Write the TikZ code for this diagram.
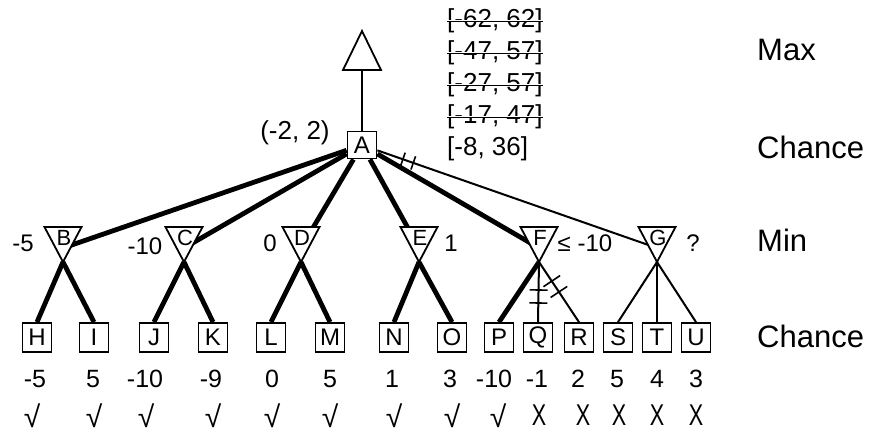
\documentclass[tikz,border=0pt]{standalone}
\usepackage{fontspec}
\setmainfont{Liberation Sans}
\usetikzlibrary{backgrounds,decorations.markings}
\newcommand\fsz[1]{\fontsize{#1}{#1}\selectfont}
\newcommand\mintri[2]{%
  \draw[tri] (#2-18.5,227) -- (#2+18.5,227) -- (#2,262) -- cycle;
  \node[font=\fsz{22}, inner sep=0pt] (#1) at (#2+1,237.5) {#1};
  \coordinate (#1c) at (#2,248);
  \coordinate (#1b) at (#2,262);
}
\begin{document}
\begin{tikzpicture}[x=1pt,y=-1pt,
  chancebox/.style={draw, line width=1.8pt, fill=white, minimum width=29pt, minimum height=29pt, inner sep=0pt, font=\fsz{24}},
  thickedge/.style={line width=4.8pt},
  thinedge/.style={line width=2pt},
  tri/.style={draw, line width=1.8pt, fill=white, line join=miter},
  minlbl/.style={font=\fsz{24}, inner sep=0pt},
  ivl/.style={font=\fsz{26}, inner sep=0pt, anchor=west},
  strike/.style={double, double distance=1pt, line width=0.8pt},
  layer/.style={font=\fsz{31}, inner sep=0pt, anchor=base west},
  val/.style={font=\fsz{25}, inner sep=0pt, anchor=base},
  mk/.style={font=\fsz{30}, inner sep=0pt, anchor=base},
  hashmarks/.style n args={3}{postaction={decorate}, decoration={markings,
     mark=at position #1 with {\draw[line width=1.6pt] (0,-#3)--(0,#3);},
     mark=at position #2 with {\draw[line width=1.6pt] (0,-#3)--(0,#3);}}}
]
\useasboundingbox (0,0) rectangle (871,436);

% Max node
\draw[tri] (343,70) -- (381,70) -- (362,31) -- cycle;
\coordinate (maxb) at (362,70);

% Chance A
\node[chancebox, minimum height=27pt] (A) at (362,145) {A};
\node[font=\fsz{26}, inner sep=0pt] (Aval) at (295,133) {(-2, 2)};

% intervals
\node[ivl] (i1) at (447,21) {[-62, 62]};
\node[ivl] (i2) at (447,53) {[-47, 57]};
\node[ivl] (i3) at (447,85) {[-27, 57]};
\node[ivl] (i4) at (447,117) {[-17, 47]};
\node[ivl] (i5) at (447,149) {[-8, 36]};
\foreach \i in {i1,i2,i3,i4} \draw[strike] (\i.west) -- (\i.east);

% Min nodes
\mintri{B}{63}
\mintri{C}{184}
\mintri{D}{301}
\mintri{E}{419}
\mintri{F}{539}
\mintri{G}{657}

\node[minlbl] (lB) at (23,243) {-5};
\node[minlbl] (lC) at (145,246) {-10};
\node[minlbl] (lD) at (270,243) {0};
\node[minlbl] (lE) at (451,243) {1};
\node[minlbl] (lF) at (585,243) {≤ -10};
\node[minlbl] (lG) at (693,243) {?};

% Chance leaves
\foreach \n/\x in {H/37,I/94,J/154,K/213,L/271,M/330,N/394,O/452,P/499,Q/538,R/579,S/618,T/657,U/696}
  \node[chancebox] (\n) at (\x,337.5) {\n};

% values
\foreach \v/\x [count=\k] in {-5/35,5/93,-10/145,-9/211,0/272,5/330,1/392,3/450,-10/494,-1/537,2/578,5/617,4/657,3/696}
  \node[val] (v\k) at (\x,387) {\v};

% marks
\foreach \x [count=\k] in {32,94,146,213,272,330,394,452,498}
  \node[mk] (m\k) at (\x,427) {√};
\foreach \x [count=\k from 10] in {539,583,619,657,696}
  \node[mk] (m\k) at (\x,425) {\scalebox{0.72}[1]{X}};

% layer labels
\node[layer] (Lmax) at (757,61) {Max};
\node[layer] (Lch1) at (757,158) {Chance};
\node[layer] (Lmin) at (757,251) {Min};
\node[layer] (Lch2) at (757,347) {Chance};

\begin{scope}[on background layer]
  \draw[thinedge] (maxb) -- (A);
  \draw[thickedge] (A) -- (Bc);
  \draw[thickedge] (A) -- (Cc);
  \draw[thickedge] (A) -- (Dc);
  \draw[thickedge] (A) -- (Ec);
  \draw[thickedge] (A) -- (Fc);
  \draw[thinedge, hashmarks={27pt}{38pt}{7pt}] (A) -- (Gc);
  \draw[thickedge] (Bb) -- (H.north);
  \draw[thickedge] (Bb) -- (I.north);
  \draw[thickedge] (Cb) -- (J.north);
  \draw[thickedge] (Cb) -- (K.north);
  \draw[thickedge] (Db) -- (L.north);
  \draw[thickedge] (Db) -- (M.north);
  \draw[thickedge] (Eb) -- (N.north);
  \draw[thickedge] (Eb) -- (O.north);
  \draw[thickedge] (Fb) -- (P.north);
  \draw[thinedge, hashmarks={28pt}{41pt}{9pt}] (Fb) -- (Q.north);
  \draw[thinedge, hashmarks={23pt}{36pt}{10pt}] (Fb) -- (R.north);
  \draw[thinedge] (Gb) -- (S.north);
  \draw[thinedge] (Gb) -- (T.north);
  \draw[thinedge] (Gb) -- (U.north);
\end{scope}
\end{tikzpicture}
\end{document}
